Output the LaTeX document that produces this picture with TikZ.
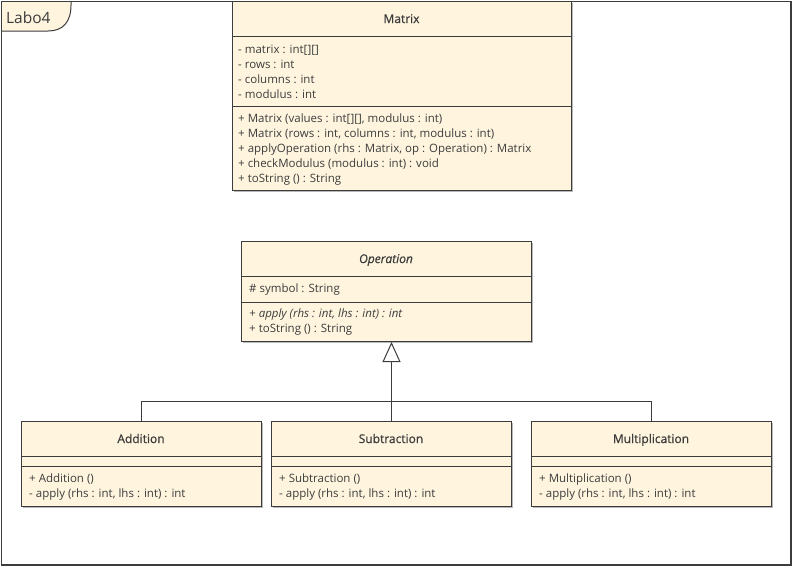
\documentclass[tikz,border=0pt]{standalone}
\usepackage{fontspec}
\setmainfont{Open Sans}
\newfontfamily\headfont{Open Sans}[FakeBold=0.7]
\usetikzlibrary{shadows,arrows.meta}

\definecolor{classfill}{HTML}{FFF5DF}
\definecolor{ink}{HTML}{3C3C3C}

\tikzset{
  classbox/.style={rectangle, draw=ink, line width=1pt, fill=classfill,
    inner sep=0pt, anchor=north west,
    drop shadow={shadow xshift=1.2pt, shadow yshift=-1.2pt, fill=black!35, opacity=0.8}},
  classname/.style={font=\headfont\fontsize{12}{14}\selectfont, text=ink, inner sep=0pt, anchor=base},
  member/.style={font=\fontsize{11.5}{13}\selectfont, text=ink, inner sep=0pt, anchor=base west},
  rule/.style={draw=ink, line width=1pt},
  generalization/.style={draw=ink, line width=1pt,
    -{Triangle[open, length=20pt, width=18pt, fill=white]}},
  framebox/.style={rectangle, draw=ink, line width=1pt, inner sep=0pt, anchor=north west},
}

\begin{document}
\begin{tikzpicture}[x=1pt, y=-1pt]
  \useasboundingbox (0,0) rectangle (792,566);

  % package frame with its name tab
  \node[framebox, minimum width=789pt, minimum height=563pt] (labo4) at (1,1) {};
  \fill[classfill] (1,1) -- (71,1) -- (71,5) .. controls (71,22) and (63,31) .. (48,31) -- (1,31) -- cycle;
  \draw[rule] (71,1) -- (71,5) .. controls (71,22) and (63,31) .. (48,31) -- (1,31);
  \draw[rule] (labo4.north west) rectangle (labo4.south east);
  \node[font=\fontsize{15.5}{18}\selectfont, text=ink, inner sep=0pt, anchor=base west] (labo4-name) at (6,23) {Labo4};

  % ---------- Matrix ----------
  \node[classbox, minimum width=339pt, minimum height=189pt] (matrix) at (232,1) {};
  \draw[rule] (232,36) -- (571,36);
  \draw[rule] (232,106) -- (571,106);
  \node[classname] (matrix-name) at (401.5,23) {Matrix};
  \node[member] (matrix-a1) at (238,53) {- matrix : int[][]};
  \node[member] (matrix-a2) at (238,68) {- rows : int};
  \node[member] (matrix-a3) at (238,83) {- columns : int};
  \node[member] (matrix-a4) at (238,98) {- modulus : int};
  \node[member] (matrix-o1) at (238,122.5) {+ Matrix (values : int[][], modulus : int)};
  \node[member] (matrix-o2) at (238,137.5) {+ Matrix (rows : int, columns : int, modulus : int)};
  \node[member] (matrix-o3) at (238,152.5) {+ applyOperation (rhs : Matrix, op : Operation) : Matrix};
  \node[member] (matrix-o4) at (238,167.5) {+ checkModulus (modulus : int) : void};
  \node[member] (matrix-o5) at (238,182.5) {+ toString () : String};

  % ---------- Operation ----------
  \node[classbox, minimum width=290pt, minimum height=100pt] (op) at (241,241) {};
  \draw[rule] (241,276) -- (531,276);
  \draw[rule] (241,302) -- (531,302);
  \node[classname, font=\headfont\fontsize{12}{14}\selectfont\itshape] (op-name) at (386,263) {Operation};
  \node[member] (op-a1) at (249,292.5) {\# symbol : String};
  \node[member, font=\fontsize{11.5}{13}\selectfont\itshape] (op-o1) at (249,317) {+ apply (rhs : int, lhs : int) : int};
  \node[member] (op-o2) at (249,332) {+ toString () : String};

  % ---------- Addition ----------
  \node[classbox, minimum width=240pt, minimum height=85pt] (add) at (21,421) {};
  \draw[rule] (21,456) -- (261,456);
  \draw[rule] (21,466) -- (261,466);
  \node[classname] (add-name) at (141,443) {Addition};
  \node[member] (add-o1) at (29,482) {+ Addition ()};
  \node[member] (add-o2) at (29,497) {- apply (rhs : int, lhs : int) : int};

  % ---------- Subtraction ----------
  \node[classbox, minimum width=240pt, minimum height=85pt] (sub) at (271,421) {};
  \draw[rule] (271,456) -- (511,456);
  \draw[rule] (271,466) -- (511,466);
  \node[classname] (sub-name) at (391,443) {Subtraction};
  \node[member] (sub-o1) at (279,482) {+ Subtraction ()};
  \node[member] (sub-o2) at (279,497) {- apply (rhs : int, lhs : int) : int};

  % ---------- Multiplication ----------
  \node[classbox, minimum width=240pt, minimum height=85pt] (mul) at (531,421) {};
  \draw[rule] (531,456) -- (771,456);
  \draw[rule] (531,466) -- (771,466);
  \node[classname] (mul-name) at (651,443) {Multiplication};
  \node[member] (mul-o1) at (539,482) {+ Multiplication ()};
  \node[member] (mul-o2) at (539,497) {- apply (rhs : int, lhs : int) : int};

  % ---------- generalization ----------
  \coordinate (join) at (391,401);
  \draw[rule] (add.north) |- (join);
  \draw[rule] (mul.north) |- (join);
  \draw[generalization] (sub.north) -- (sub.north |- op.south);
\end{tikzpicture}
\end{document}
